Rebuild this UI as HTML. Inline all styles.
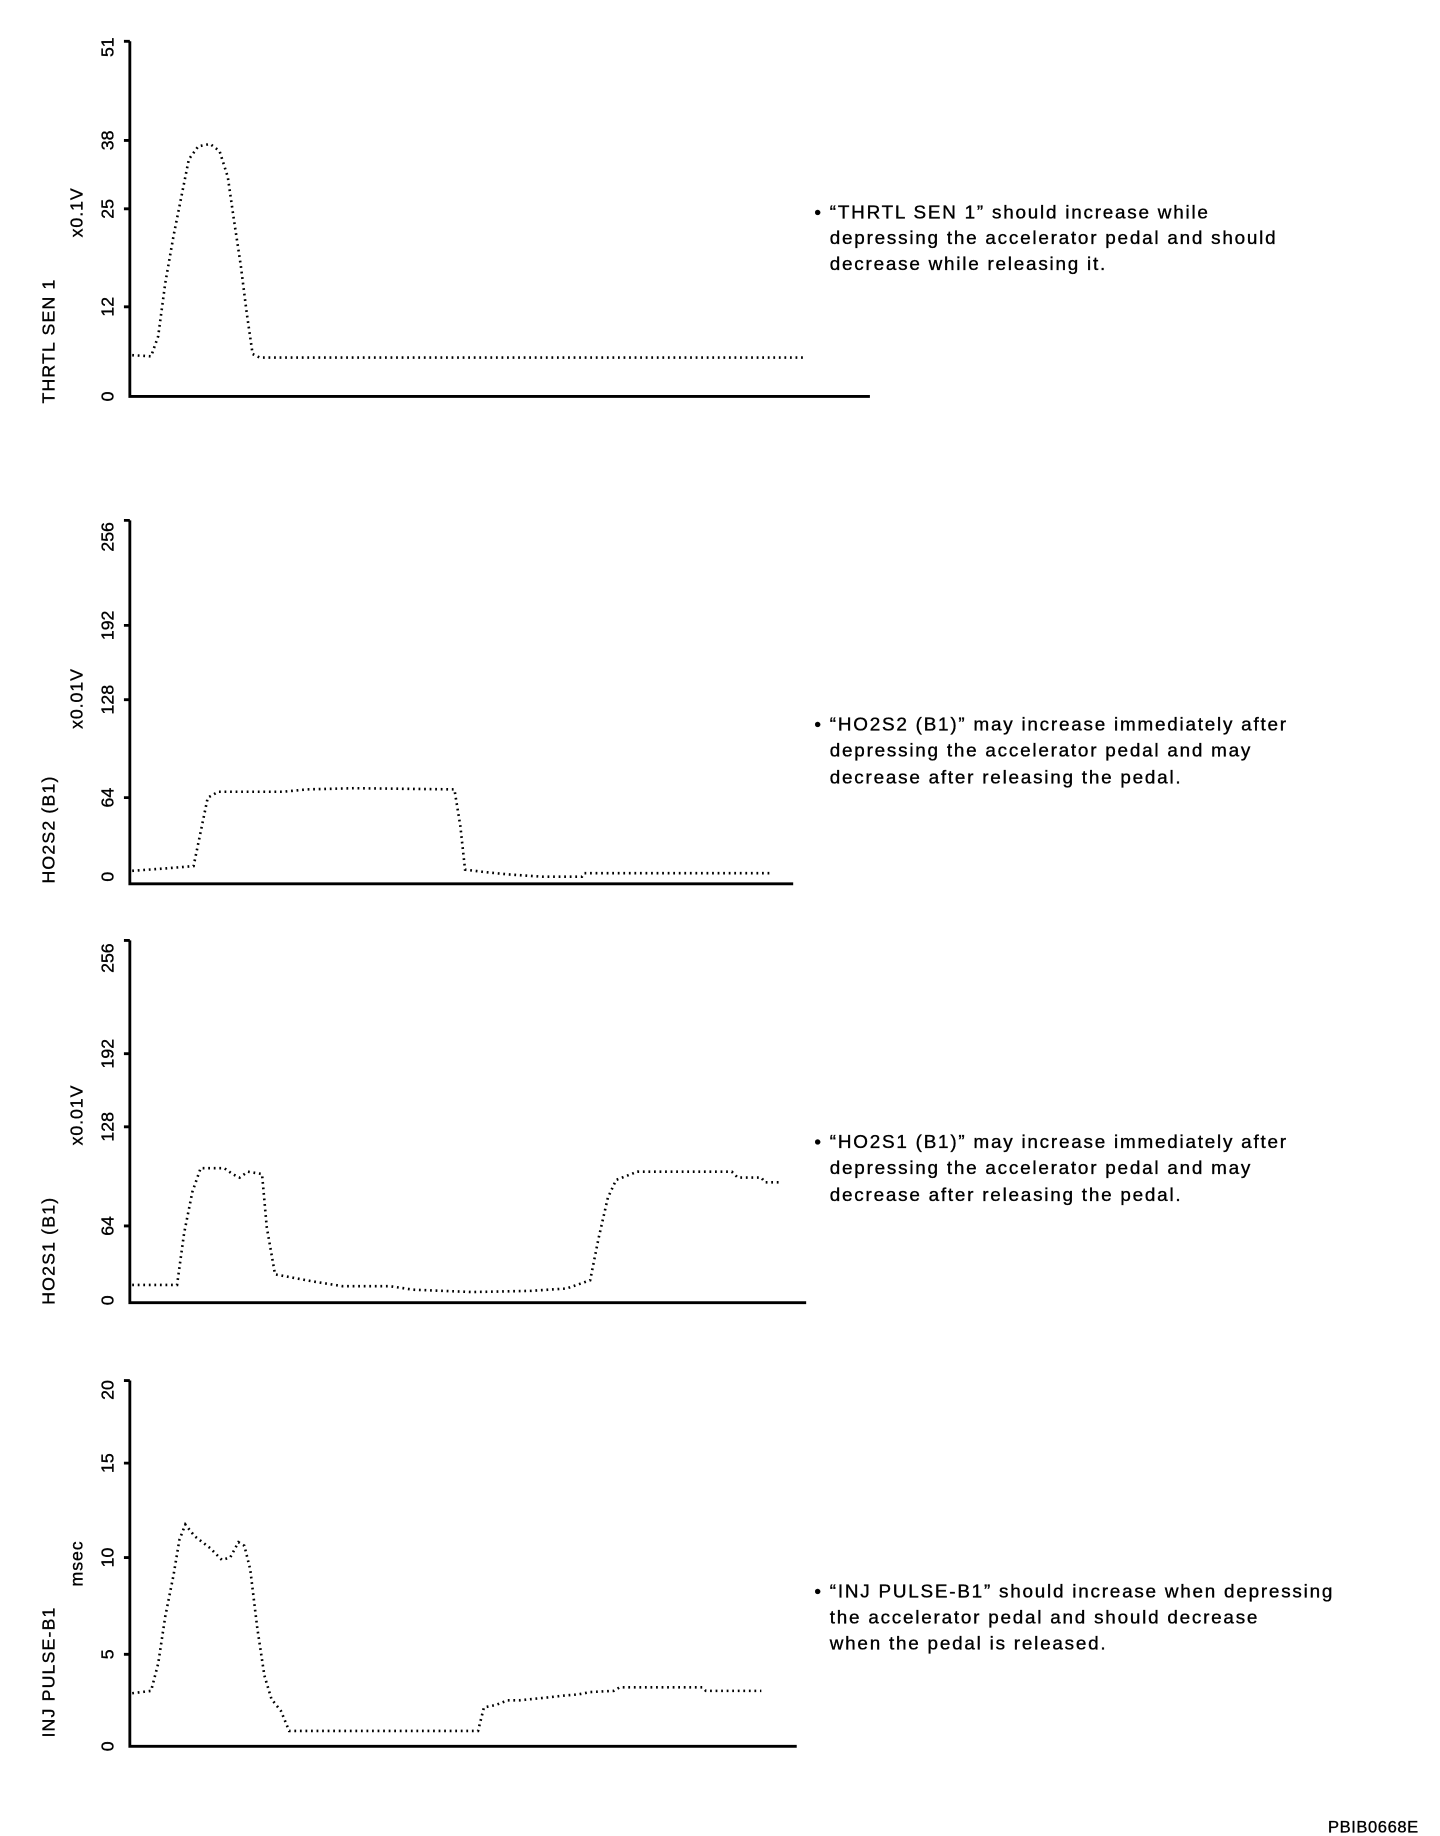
<!DOCTYPE html>
<html><head><meta charset="utf-8"><style>
html,body{margin:0;padding:0;background:#fff;}
svg{display:block;}
text{font-family:"Liberation Sans",sans-serif;fill:#000;}
</style></head><body>
<svg width="1440" height="1836" viewBox="0 0 1220 1556" preserveAspectRatio="none">
<g stroke="#000" stroke-width="2.4" fill="none">
<path d="M110,35 V336 H737"/><path d="M105,35h5M105,119h5M105,177h5M105,260h5"/>
<path d="M110,441 V749 H672"/><path d="M105,441h5M105,530h5M105,593h5M105,676h5"/>
<path d="M110,797 V1104 H683"/><path d="M105,797h5M105,893h5M105,955h5M105,1039h5"/>
<path d="M110,1170 V1480 H675"/><path d="M105,1170h5M105,1240h5M105,1320h5M105,1402h5"/>
</g>
<g stroke="#000" stroke-width="2.2" fill="none" stroke-dasharray="1.5 3.2">
<path d="M112,301 L128,302 L134,285 L140,240 L147,200 L155,160 L160,135 L168,124 L178,122 L186,128 L193,150 L198,185 L204,225 L209,265 L214,300 L220,303 L683,303"/>
<path d="M112,738 L140,736 L164,734 L170,705 L176,676 L185,671 L240,671 L260,669 L300,668 L385,669 L390,700 L394,737 L410,739 L430,741 L460,743 L493,743 L495,740 L652,740"/>
<path d="M112,1089 L150,1089 L156,1045 L163,1010 L170,990 L190,990 L197,995 L203,998 L210,993 L222,995 L226,1040 L233,1080 L265,1086 L290,1090 L330,1090 L350,1093 L400,1095 L450,1094 L480,1092 L500,1085 L507,1050 L515,1015 L522,1000 L540,993 L620,993 L625,998 L645,998 L648,1002 L662,1002"/>
<path d="M112,1435 L128,1433 L134,1410 L140,1370 L147,1335 L152,1305 L157,1292 L165,1302 L178,1312 L188,1322 L195,1320 L202,1307 L207,1310 L212,1330 L218,1380 L224,1420 L230,1440 L238,1450 L245,1467 L405,1467 L410,1447 L420,1445 L430,1441 L440,1441 L460,1439 L478,1437 L490,1436 L500,1434 L520,1433 L525,1430 L595,1430 L598,1433 L645,1433"/>
</g>
<g font-size="15" stroke="#000" stroke-width="0.3">
<text transform="translate(96,336) rotate(-90)" text-anchor="middle">0</text>
<text transform="translate(96,260) rotate(-90)" text-anchor="middle">12</text>
<text transform="translate(96,177) rotate(-90)" text-anchor="middle">25</text>
<text transform="translate(96,119) rotate(-90)" text-anchor="middle">38</text>
<text transform="translate(96,40) rotate(-90)" text-anchor="middle">51</text>
<text transform="translate(96,743) rotate(-90)" text-anchor="middle">0</text>
<text transform="translate(96,676) rotate(-90)" text-anchor="middle">64</text>
<text transform="translate(96,593) rotate(-90)" text-anchor="middle">128</text>
<text transform="translate(96,530) rotate(-90)" text-anchor="middle">192</text>
<text transform="translate(96,455) rotate(-90)" text-anchor="middle">256</text>
<text transform="translate(96,1102) rotate(-90)" text-anchor="middle">0</text>
<text transform="translate(96,1039) rotate(-90)" text-anchor="middle">64</text>
<text transform="translate(96,955) rotate(-90)" text-anchor="middle">128</text>
<text transform="translate(96,893) rotate(-90)" text-anchor="middle">192</text>
<text transform="translate(96,812) rotate(-90)" text-anchor="middle">256</text>
<text transform="translate(96,1480) rotate(-90)" text-anchor="middle">0</text>
<text transform="translate(96,1402) rotate(-90)" text-anchor="middle">5</text>
<text transform="translate(96,1320) rotate(-90)" text-anchor="middle">10</text>
<text transform="translate(96,1240) rotate(-90)" text-anchor="middle">15</text>
<text transform="translate(96,1178) rotate(-90)" text-anchor="middle">20</text>
<text transform="translate(70,180) rotate(-90)" text-anchor="middle" letter-spacing="0.8">x0.1V</text>
<text transform="translate(46,289) rotate(-90)" text-anchor="middle" letter-spacing="1">THRTL SEN 1</text>
<text transform="translate(70,592) rotate(-90)" text-anchor="middle" letter-spacing="0.8">x0.01V</text>
<text transform="translate(46,703) rotate(-90)" text-anchor="middle" letter-spacing="1">HO2S2 (B1)</text>
<text transform="translate(70,945) rotate(-90)" text-anchor="middle" letter-spacing="0.8">x0.01V</text>
<text transform="translate(46,1060) rotate(-90)" text-anchor="middle" letter-spacing="1">HO2S1 (B1)</text>
<text transform="translate(70,1325) rotate(-90)" text-anchor="middle" letter-spacing="0.8">msec</text>
<text transform="translate(46,1417) rotate(-90)" text-anchor="middle" letter-spacing="1">INJ PULSE-B1</text>
</g>
<g font-size="16" letter-spacing="1.5" stroke="#000" stroke-width="0.3">
<text x="690" y="185">• “THRTL SEN 1” should increase while</text>
<text x="703" y="207">depressing the accelerator pedal and should</text>
<text x="703" y="229">decrease while releasing it.</text>
<text x="690" y="619">• “HO2S2 (B1)” may increase immediately after</text>
<text x="703" y="641">depressing the accelerator pedal and may</text>
<text x="703" y="664">decrease after releasing the pedal.</text>
<text x="690" y="973">• “HO2S1 (B1)” may increase immediately after</text>
<text x="703" y="995">depressing the accelerator pedal and may</text>
<text x="703" y="1018">decrease after releasing the pedal.</text>
<text x="690" y="1354">• “INJ PULSE-B1” should increase when depressing</text>
<text x="703" y="1376">the accelerator pedal and should decrease</text>
<text x="703" y="1398">when the pedal is released.</text>
<text x="1202" y="1553" text-anchor="end" font-size="14" letter-spacing="0.5">PBIB0668E</text>
</g>
</svg>
</body></html>
